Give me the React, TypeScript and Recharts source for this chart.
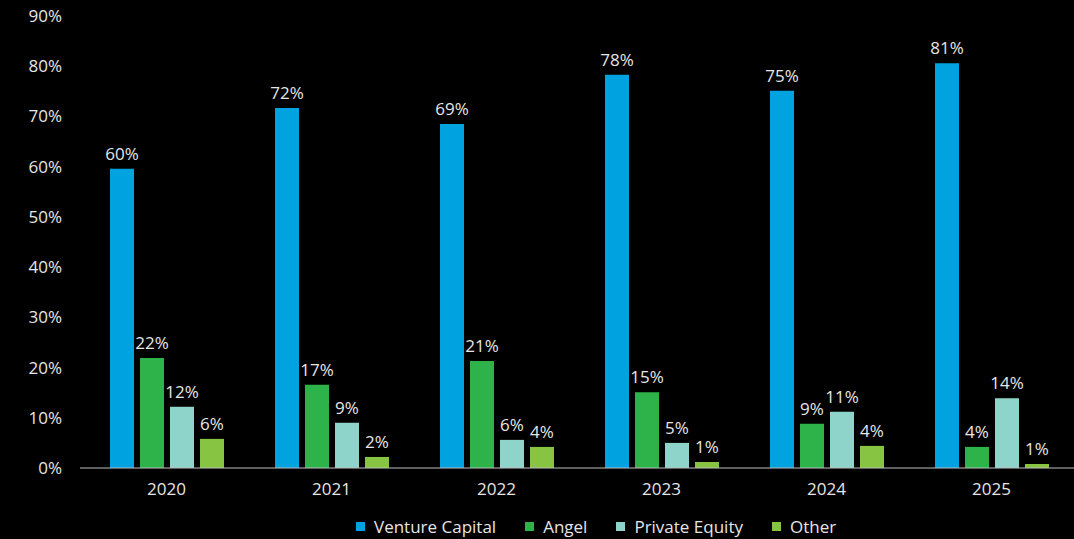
import { Bar, BarChart, LabelList, Legend, XAxis, YAxis } from "recharts";

const years = ["2020", "2021", "2022", "2023", "2024", "2025"];
const ventureCapital = [59.6, 71.7, 68.5, 78.3, 75.1, 80.6];
const angel = [21.9, 16.6, 21.3, 15.1, 8.8, 4.2];
const privateEquity = [12.2, 9.0, 5.6, 5.0, 11.2, 13.9];
const other = [5.8, 2.2, 4.2, 1.2, 4.4, 0.8];
const yTicks = [0, 10, 20, 30, 40, 50, 60, 70, 80, 90];

const series = [
  { key: "vc", name: "Venture Capital", color: "#00a3e0", values: ventureCapital },
  { key: "angel", name: "Angel", color: "#2db34a", values: angel },
  { key: "pe", name: "Private Equity", color: "#8fd4cb", values: privateEquity },
  { key: "other", name: "Other", color: "#86c441", values: other },
];

const data = years.map((year, i) => {
  const row: Record<string, string | number> = { year };
  series.forEach((s) => (row[s.key] = s.values[i]));
  return row;
});

const textColor = "#e6e6e6";
const font = "'Open Sans', sans-serif";
const fontSize = 17;

function LegendContent() {
  return (
    <div
      style={{
        display: "flex",
        alignItems: "center",
        gap: 29,
        fontFamily: font,
        fontSize,
        color: textColor,
        paddingLeft: 356,
      }}
    >
      {series.map((s) => (
        <div key={s.key} style={{ display: "flex", alignItems: "center" }}>
          <span style={{ width: 9, height: 9, background: s.color, marginRight: 9, display: "inline-block" }} />
          <span>{s.name}</span>
        </div>
      ))}
    </div>
  );
}

export default function App() {
  return (
    <div style={{ position: "fixed", top: 0, left: 0, width: 1074, height: 539, background: "#000" }}>
      <BarChart
        width={1074}
        height={539}
        data={data}
        margin={{ top: 16, right: 0, left: 0, bottom: 0 }}
        barSize={24}
        barGap={6}
      >
        <XAxis
          dataKey="year"
          axisLine={{ stroke: "#bfbfbf" }}
          tickLine={false}
          tickMargin={9}
          height={48}
          padding={{ left: 4, right: 0 }}
          tick={{ fill: textColor, fontSize, fontFamily: font }}
        />
        <YAxis
          width={80}
          domain={[0, 90]}
          ticks={yTicks}
          interval={0}
          axisLine={false}
          tickLine={false}
          tickMargin={12}
          tickFormatter={(v) => `${v}%`}
          tick={{ fill: textColor, fontSize, fontFamily: font }}
        />
        <Legend
          verticalAlign="bottom"
          content={<LegendContent />}
          wrapperStyle={{ left: 0, width: 1074, bottom: 1 }}
        />
        {series.map((s) => (
          <Bar key={s.key} dataKey={s.key} name={s.name} fill={s.color} isAnimationActive={false}>
            <LabelList
              dataKey={s.key}
              position="top"
              offset={9}
              formatter={(v: any) => `${Math.round(Number(v))}%`}
              style={{ fill: textColor, fontSize, fontFamily: font }}
            />
          </Bar>
        ))}
      </BarChart>
    </div>
  );
}
